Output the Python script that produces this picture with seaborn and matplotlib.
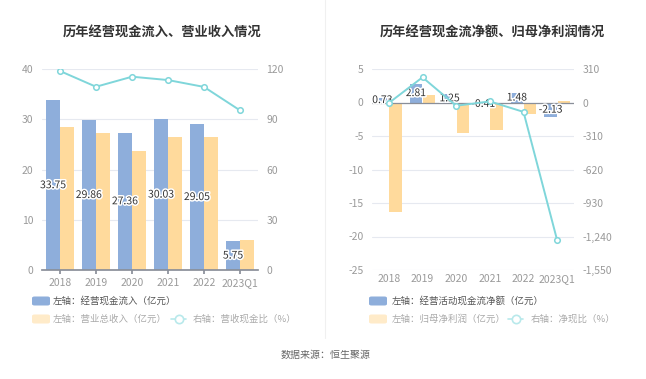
import numpy as np
import pandas as pd
import matplotlib
matplotlib.use("Agg")
import matplotlib.pyplot as plt
import seaborn as sns
from matplotlib.patches import FancyBboxPatch
from matplotlib.lines import Line2D
import matplotlib.patheffects as pe
from matplotlib.ticker import FuncFormatter

sns.set_theme(style="white")
plt.rcParams['font.family'] = ['Noto Sans CJK SC', 'DejaVu Sans']
plt.rcParams['axes.unicode_minus'] = False

categories = ["2018", "2019", "2020", "2021", "2022", "2023Q1"]
# left chart
cash_inflow = [33.75, 29.86, 27.36, 30.03, 29.05, 5.75]
revenue = [28.4, 27.3, 23.7, 26.4, 26.5, 6.0]
rev_cash_ratio = [118.8, 109.4, 115.4, 113.4, 109.3, 95.3]
# right chart
net_cash = [0.73, 2.81, 1.25, -0.41, 1.48, -2.13]
net_profit = [-16.3, 1.1, -4.5, -4.15, -1.7, 0.17]
net_cash_ratio = [-4.5, 233, -30, 10, -87, -1275]

BLUE = "#8eaedb"
ORANGE = "#ffda9c"
TEAL = "#7fd6da"
GRID = "#e6e9f0"
TICK = "#9a9a9a"

fig = plt.figure(figsize=(6.46, 3.79), dpi=100)
W, H = 646, 379

def ax_rect(x0, x1, y0, y1):
    return [x0 / W, 1 - y1 / H, (x1 - x0) / W, (y1 - y0) / H]

axL = fig.add_axes(ax_rect(42, 258, 69, 270))
axR = fig.add_axes(ax_rect(372, 574, 69, 270))

def make_df(a, b, na, nb):
    return pd.DataFrame({
        "cat": categories * 2,
        "val": list(a) + list(b),
        "series": [na] * len(categories) + [nb] * len(categories),
    })

def draw(ax, a, b, ratio, ylim, yticks, ylim2, yticks2, fmt2, zero_line):
    df = make_df(a, b, "a", "b")
    sns.barplot(data=df, x="cat", y="val", hue="series", palette=[BLUE, ORANGE],
                width=0.78, gap=0.06, ax=ax, legend=False, saturation=1,
                edgecolor="none", linewidth=0)
    ax.set_xlim(-0.5, len(categories) - 0.5)
    ax.set_ylim(*ylim)
    ax.set_yticks(yticks)
    ax.set_xlabel("")
    ax.set_ylabel("")
    for s in ["top", "right", "left"]:
        ax.spines[s].set_visible(False)
    ax.yaxis.grid(True, color=GRID, linewidth=0.8)
    ax.set_axisbelow(True)
    ax.tick_params(axis="y", length=0, labelsize=7.5, labelcolor=TICK, pad=6)
    ax.tick_params(axis="x", labelsize=7.5, labelcolor=TICK, pad=3)
    if zero_line:
        ax.spines["bottom"].set_visible(False)
        ax.tick_params(axis="x", length=0)
        ax.axhline(0, color="#8a8f99", linewidth=0.9, zorder=2)
    else:
        ax.spines["bottom"].set_color("#8a8f99")
        ax.tick_params(axis="x", length=3, color="#8a8f99", bottom=True)
    # labels in middle of blue bars
    blue_bars = ax.containers[0]
    for rect, v in zip(blue_bars, a):
        cx = rect.get_x() + rect.get_width() / 2
        ax.text(cx, v / 2, f"{v:.2f}", ha="center", va="center", fontsize=7.5,
                color="#333333", zorder=6,
                path_effects=[pe.withStroke(linewidth=2.2, foreground="white")])
    ax2 = ax.twinx()
    x = np.arange(len(categories))
    sns.lineplot(x=x, y=ratio, ax=ax2, color=TEAL, linewidth=1.4, marker="o",
                 markersize=4, markerfacecolor="white", markeredgecolor=TEAL,
                 markeredgewidth=1.1, sort=False, zorder=5)
    ax2.set_ylim(*ylim2)
    ax2.set_yticks(yticks2)
    ax2.yaxis.set_major_formatter(FuncFormatter(fmt2))
    for s in ["top", "right", "left", "bottom"]:
        ax2.spines[s].set_visible(False)
    ax2.tick_params(axis="y", length=0, labelsize=7.5, labelcolor=TICK, pad=6)
    ax2.grid(False)
    ax2.set_ylabel("")
    ax2.set_xlim(-0.5, len(categories) - 0.5)
    return ax2

draw(axL, cash_inflow, revenue, rev_cash_ratio, (0, 40), [0, 10, 20, 30, 40],
     (0, 120), [0, 30, 60, 90, 120], lambda v, p: f"{v:.0f}", zero_line=False)
draw(axR, net_cash, net_profit, net_cash_ratio, (-25, 5), [-25, -20, -15, -10, -5, 0, 5],
     (-1550, 310), [-1550, -1240, -930, -620, -310, 0, 310],
     lambda v, p: f"{v:,.0f}", zero_line=True)

# titles
fig.text(162 / W, 1 - 33 / H, "历年经营现金流入、营业收入情况", ha="center", va="center",
         fontsize=9.5, fontweight="bold", color="#333333")
fig.text(492 / W, 1 - 33 / H, "历年经营现金流净额、归母净利润情况", ha="center", va="center",
         fontsize=9.5, fontweight="bold", color="#333333")

# separator
fig.add_artist(Line2D([325 / W, 325 / W], [1 - 0 / H, 1 - 338 / H], color="#f0f0f0",
                      linewidth=0.8, transform=fig.transFigure))

def legend(x_patch, x_text, x_line, x_text2, t1, t2, t3):
    y1, y2 = 301, 319
    for y, col in [(y1, BLUE), (y2, "#ffebc9")]:
        fig.add_artist(FancyBboxPatch(((x_patch) / W, 1 - (y + 4.5) / H), 18 / W, 9 / H,
                                      boxstyle="round,pad=0,rounding_size=0.004",
                                      transform=fig.transFigure, facecolor=col,
                                      edgecolor="none"))
    fig.text(x_text / W, 1 - y1 / H, t1, ha="left", va="center", fontsize=6.8, color="#555555")
    fig.text(x_text / W, 1 - y2 / H, t2, ha="left", va="center", fontsize=6.8, color="#aaaaaa")
    fig.add_artist(Line2D([x_line / W, (x_line + 15) / W], [1 - y2 / H, 1 - y2 / H],
                          color="#b8e9eb", linewidth=1.2, transform=fig.transFigure))
    fig.add_artist(Line2D([(x_line + 7.5) / W], [1 - y2 / H], marker="o", markersize=6,
                          markerfacecolor="white", markeredgecolor="#b8e9eb",
                          markeredgewidth=1.2, transform=fig.transFigure))
    fig.text(x_text2 / W, 1 - y2 / H, t3, ha="left", va="center", fontsize=6.8, color="#aaaaaa")

legend(32, 53, 171, 193, "左轴：经营现金流入（亿元）", "左轴：营业总收入（亿元）", "右轴：营收现金比（%）")
legend(369, 392, 508, 531, "左轴：经营活动现金流净额（亿元）", "左轴：归母净利润（亿元）", "右轴：净现比（%）")

fig.text(326 / W, 1 - 355 / H, "数据来源：恒生聚源", ha="center", va="center",
         fontsize=7.2, color="#666666")

fig.savefig("out.png", dpi=100)
